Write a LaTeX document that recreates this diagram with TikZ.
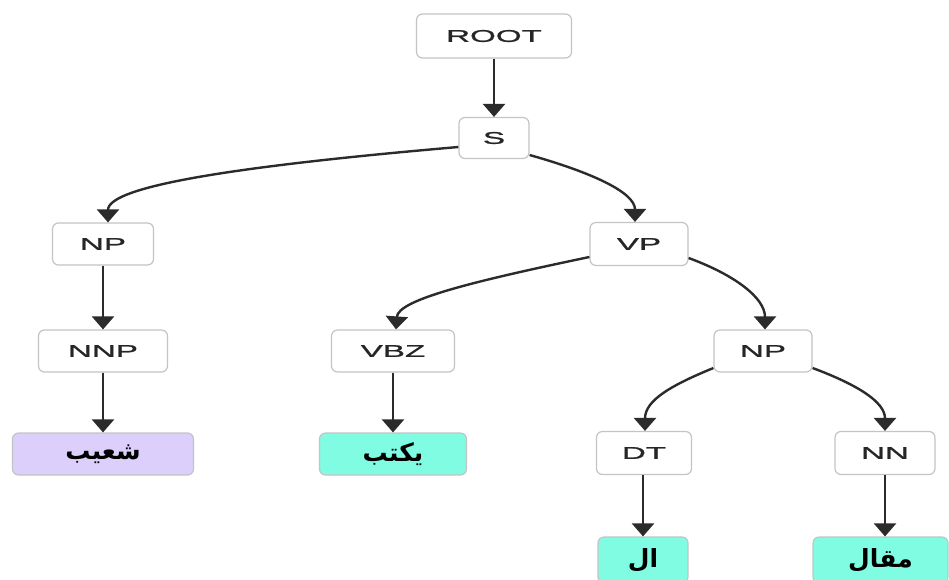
\documentclass[tikz,border=0pt]{standalone}
\usepackage{fontspec}
\usetikzlibrary{arrows.meta}
\TeXXeTstate=1
\newfontfamily\labfont[FakeStretch=1.95,FakeBold=1.2]{Liberation Sans}
\newfontfamily\arabicfont[Script=Arabic]{DejaVu Sans Bold}
\definecolor{edgecol}{HTML}{2B2B2B}
\definecolor{boxline}{HTML}{C4C4C4}
\definecolor{labcol}{HTML}{262626}
\definecolor{purplefill}{HTML}{DCCFFC}
\definecolor{cyanfill}{HTML}{80FCE2}
\tikzset{
  tag/.style={draw=boxline, line width=1.2pt, rounded corners=6pt, fill=white,
    inner sep=0pt, font=\labfont\fontsize{17}{19}\selectfont, text=labcol},
  word/.style={tag, text=black, font=\arabicfont\fontsize{25}{27}\selectfont},
  edge/.style={draw=edgecol, line width=2.4pt,
    -{Triangle[width=22pt,length=13pt]}},
}
\begin{document}
\begin{tikzpicture}[x=1pt,y=-1pt]
\clip (0,0) rectangle (949,579);
\fill[white] (0,0) rectangle (949,579);

% phrase-structure labels
\node[tag, minimum width=155pt, minimum height=44pt] (root) at (494,36) {ROOT};
\node[tag, minimum width=70pt,  minimum height=41pt] (s)    at (494,138) {S};
\node[tag, minimum width=101pt, minimum height=42pt] (npl)  at (103,244) {NP};
\node[tag, minimum width=98pt,  minimum height=43pt] (vp)   at (639,244) {VP};
\node[tag, minimum width=129pt, minimum height=42pt] (nnp)  at (103,351) {NNP};
\node[tag, minimum width=123pt, minimum height=42pt] (vbz)  at (393,351) {VBZ};
\node[tag, minimum width=98pt,  minimum height=42pt] (npr)  at (763,351) {NP};
\node[tag, minimum width=95pt,  minimum height=43pt] (dt)   at (644,453) {DT};
\node[tag, minimum width=100pt, minimum height=43pt] (nn)   at (885,453) {NN};

% leaf words
\node[word, fill=purplefill, minimum width=181pt, minimum height=42pt] (w1) at (103,454) {\beginR شعيب\endR};
\node[word, fill=cyanfill, minimum width=147pt, minimum height=42pt] (w2) at (393,454) {\beginR يكتب\endR};
\node[word, fill=cyanfill, minimum width=90pt, minimum height=46pt] (w3) at (643,560) {\beginR ال\endR};
\node[word, fill=cyanfill, minimum width=135pt, minimum height=46pt] (w4) at (880.5,560) {\beginR مقال\endR};

% straight connectors
\draw[edge] (root) -- (s);
\draw[edge] (npl) -- (nnp);
\draw[edge] (nnp) -- (w1);
\draw[edge] (vbz) -- (w2);
\draw[edge] (dt.south -| w3) -- (w3);
\draw[edge] (nn) -- (nn |- w4.north);

% curved connectors
\draw[edge] (s.west |- 0,147) .. controls (250,165) and (108,185) .. (npl.north -| 108,0);
\draw[edge] (s.east |- 0,155) .. controls (590,172) and (635,192) .. (vp.north -| 635,0);
\draw[edge] (vp.west |- 0,257) .. controls (470,282) and (398,300) .. (vbz.north -| 396,0);
\draw[edge] (vp.east |- 0,258) .. controls (735,275) and (765,298) .. (npr.north -| 765,0);
\draw[edge] (npr.west |- 0,368) .. controls (672,385) and (645,400) .. (dt.north -| 645,0);
\draw[edge] (npr.east |- 0,368) .. controls (858,385) and (885,402) .. (nn.north -| 885,0);
\end{tikzpicture}
\end{document}
